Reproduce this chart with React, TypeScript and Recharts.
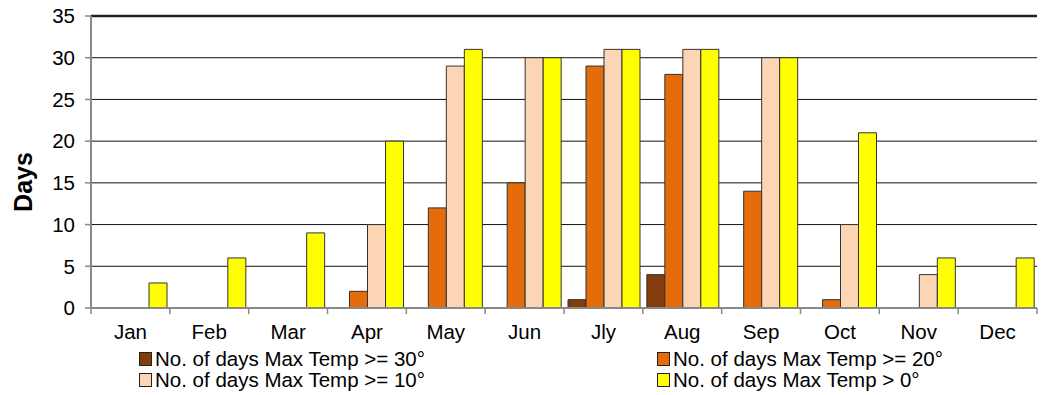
import React from "react";
import { BarChart, Bar, XAxis, YAxis, CartesianGrid, ReferenceLine } from "recharts";

const months = ["Jan", "Feb", "Mar", "Apr", "May", "Jun", "Jly", "Aug", "Sep", "Oct", "Nov", "Dec"];
const daysOver30 = [0, 0, 0, 0, 0, 0, 1, 4, 0, 0, 0, 0];
const daysOver20 = [0, 0, 0, 2, 12, 15, 29, 28, 14, 1, 0, 0];
const daysOver10 = [0, 0, 0, 10, 29, 30, 31, 31, 30, 10, 4, 0];
const daysOver0 = [3, 6, 9, 20, 31, 30, 31, 31, 30, 21, 6, 6];
const yTicks = [0, 5, 10, 15, 20, 25, 30, 35];

const series = [
  { key: "t30", name: "No. of days Max Temp >= 30°", color: "#843C0C" },
  { key: "t20", name: "No. of days Max Temp >= 20°", color: "#E46C0A" },
  { key: "t10", name: "No. of days Max Temp >= 10°", color: "#FCD5B5" },
  { key: "t0", name: "No. of days Max Temp > 0°", color: "#FFFF00" },
];

const data = months.map((m, i) => ({
  month: m,
  t30: daysOver30[i],
  t20: daysOver20[i],
  t10: daysOver10[i],
  t0: daysOver0[i],
}));

const W = 1041;
const H = 395;
const LEFT = 91;
const RIGHT = 4;
const FONT = "'Liberation Sans', Arial, sans-serif";
const BAND = (W - LEFT - RIGHT) / months.length;

// month label plus a short tick on the category boundary (Excel style)
const MonthTick = (props: any) => {
  const { x, y, payload, index } = props;
  const left = x - BAND / 2;
  return (
    <g>
      <line x1={left} x2={left} y1={y} y2={y + 6} stroke="#888" strokeWidth={1.5} />
      {index === months.length - 1 && (
        <line x1={left + BAND} x2={left + BAND} y1={y} y2={y + 6} stroke="#888" strokeWidth={1.5} />
      )}
      <text x={x} y={y + 31} textAnchor="middle" fontSize={20.5} fill="#000" fontFamily={FONT}>
        {payload.value}
      </text>
    </g>
  );
};

const DaysLabel = (props: any) => {
  const { viewBox } = props;
  const cx = viewBox.x + 23;
  const cy = viewBox.y + viewBox.height / 2 + 20;
  return (
    <text
      x={cx}
      y={cy}
      transform={`rotate(-90 ${cx} ${cy})`}
      textAnchor="middle"
      dominantBaseline="central"
      fontSize={25}
      fontWeight="bold"
      fontFamily={FONT}
      fill="#000"
    >
      Days
    </text>
  );
};

const legendPos = [
  { left: 139, top: 348 },
  { left: 657, top: 348 },
  { left: 139, top: 369 },
  { left: 657, top: 369 },
];

export default function App() {
  return (
    <div style={{ position: "absolute", left: 0, top: 0, width: W, height: H, background: "#fff", fontFamily: FONT }}>
      <BarChart
        width={W}
        height={H}
        data={data}
        margin={{ top: 16, right: RIGHT, left: 0, bottom: 57 }}
        barCategoryGap={4}
        barGap={0}
      >
        <CartesianGrid vertical={false} stroke="#111" strokeWidth={1} />
        <XAxis
          dataKey="month"
          height={30}
          tickLine={false}
          tickSize={0}
          tickMargin={0}
          axisLine={{ stroke: "#888", strokeWidth: 2 }}
          tick={<MonthTick />}
          interval={0}
        />
        <YAxis
          width={LEFT}
          domain={[0, 35]}
          ticks={yTicks}
          interval={0}
          tickSize={6}
          tickMargin={10}
          tickLine={{ stroke: "#888", strokeWidth: 1.5 }}
          axisLine={{ stroke: "#888", strokeWidth: 2 }}
          tick={{ fontSize: 20.5, fill: "#000", fontFamily: FONT }}
          label={<DaysLabel />}
        />
        <YAxis
          yAxisId="frame"
          orientation="right"
          width={0}
          domain={[0, 35]}
          tick={false}
          tickLine={false}
          axisLine={{ stroke: "#111", strokeWidth: 3 }}
        />
        <ReferenceLine y={35} stroke="#222" strokeWidth={2.5} />
        {series.map((s) => (
          <Bar
            key={s.key}
            dataKey={s.key}
            name={s.name}
            fill={s.color}
            stroke="#333"
            strokeWidth={1}
            isAnimationActive={false}
          />
        ))}
      </BarChart>
      {series.map((s, i) => (
        <div
          key={s.key}
          style={{
            position: "absolute",
            left: legendPos[i].left,
            top: legendPos[i].top,
            display: "flex",
            alignItems: "center",
            fontSize: 20.5,
            lineHeight: "21px",
            color: "#000",
            whiteSpace: "nowrap",
          }}
        >
          <span
            style={{
              display: "inline-block",
              width: 11,
              height: 12,
              background: s.color,
              border: "1px solid #222",
              marginRight: 3,
            }}
          />
          {s.name}
        </div>
      ))}
    </div>
  );
}
